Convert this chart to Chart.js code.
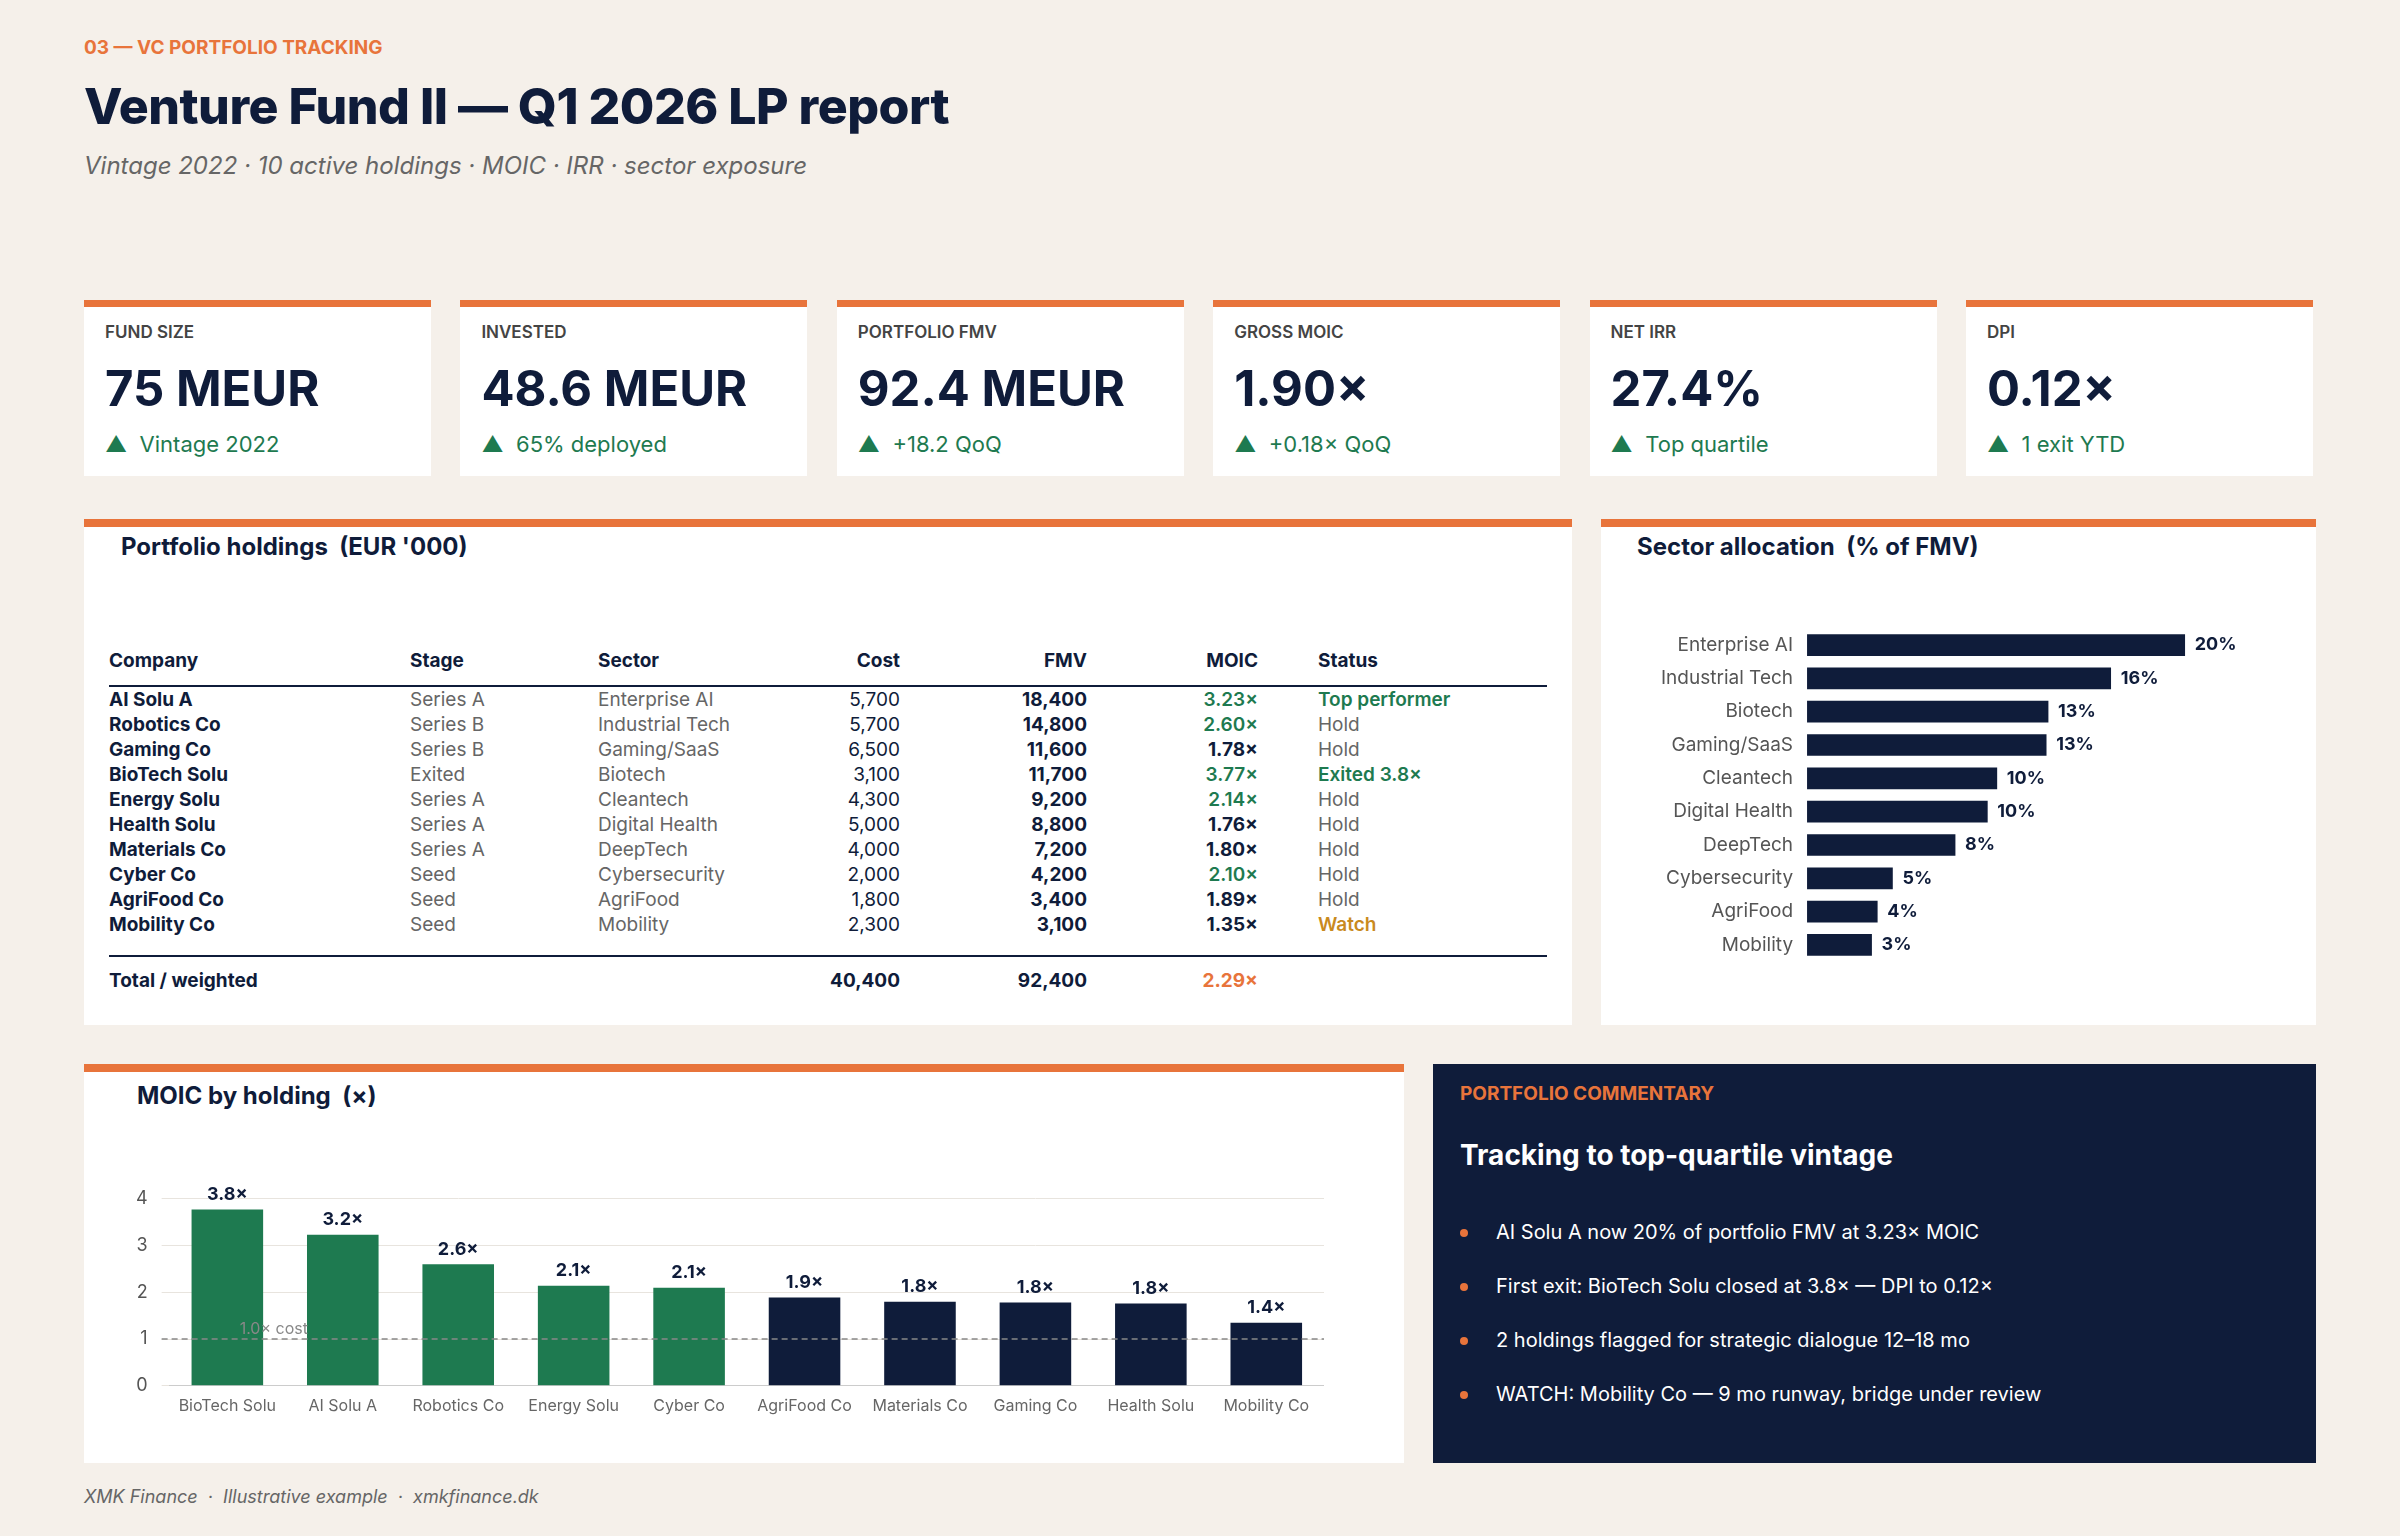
<!DOCTYPE html>
<html><head><meta charset="utf-8">
<script src="https://cdn.jsdelivr.net/npm/chart.js@4/dist/chart.umd.min.js"></script>
<style>
body{margin:0;width:2400px;height:1536px;background:#f5f0ea;font-family:Inter,sans-serif;color:#0f1c3a;position:relative;overflow:hidden}
.abs{position:absolute}
.eyebrow{left:84px;top:36px;font-size:19px;font-weight:700;color:#e8743b}
.title{left:84px;top:76px;font-size:50px;font-weight:800;letter-spacing:-0.5px}
.sub{left:84px;top:151px;font-size:24px;font-style:italic;color:#666}
.card{top:300px;height:176px;width:347px;background:#fff;border-top:7px solid #e8743b;box-sizing:border-box}
.card .l{position:absolute;left:21px;top:15px;font-size:17px;font-weight:600;color:#444}
.card .v{position:absolute;left:21px;top:52px;font-size:49px;font-weight:700}
.card .s{position:absolute;left:21px;top:124px;font-size:22px;color:#1e7a50}
.panel{background:#fff;border-top:8px solid #e8743b;box-sizing:border-box}
.ptitle{font-size:24px;font-weight:700}
table{border-collapse:collapse;font-size:19px;table-layout:fixed}
td,th{padding:0;height:25px;line-height:25px;white-space:nowrap}
th{text-align:left;font-weight:700;height:34px;border-bottom:2px solid #0f1c3a;vertical-align:top}
.r{text-align:right}.b{font-weight:700}.g{color:#666}.gr{color:#1e7a50;font-weight:600}.or{color:#c98a1e;font-weight:600}
.comm{left:1433px;top:1064px;width:883px;height:399px;background:#0f1c3a;color:#fff}
.comm ul{list-style:none;margin:0;padding:0;position:absolute;left:27px;top:156px}
.comm li{font-size:20px;height:54px;padding-left:36px;position:relative}
.comm li:before{content:"";position:absolute;left:0;top:9px;width:8px;height:8px;border-radius:50%;background:#e8743b}
.foot{left:84px;top:1486px;font-size:18px;font-style:italic;color:#666}
</style></head><body>
<div class="abs eyebrow">03 — VC PORTFOLIO TRACKING</div>
<div class="abs title">Venture Fund II — Q1 2026 LP report</div>
<div class="abs sub">Vintage 2022 · 10 active holdings · MOIC · IRR · sector exposure</div>
<div id="cards"></div>

<div class="abs panel" style="left:84px;top:519px;width:1488px;height:506px">
  <div class="abs ptitle" style="left:37px;top:5px">Portfolio holdings &nbsp;(EUR '000)</div>
  <table class="abs" style="left:25px;top:121px;width:1438px">
    <colgroup><col style="width:301px"><col style="width:188px"><col style="width:199px"><col style="width:103px"><col style="width:187px"><col style="width:171px"><col style="width:289px"></colgroup>
    <thead><tr><th style="height:37px">Company</th><th>Stage</th><th>Sector</th><th class="r">Cost</th><th class="r">FMV</th><th class="r">MOIC</th><th style="padding-left:60px">Status</th></tr></thead>
    <tbody id="rows"></tbody>
  </table>
</div>

<div class="abs panel" style="left:1601px;top:519px;width:715px;height:506px">
  <div class="abs ptitle" style="left:36px;top:5px">Sector allocation &nbsp;(% of FMV)</div>
  <div class="abs" style="left:54px;top:84px;width:636px;height:368px"><canvas id="sector"></canvas></div>
</div>

<div class="abs panel" style="left:84px;top:1064px;width:1320px;height:399px">
  <div class="abs ptitle" style="left:53px;top:9px">MOIC by holding &nbsp;(×)</div>
  <div class="abs" style="left:12px;top:102px;width:1228px;height:245px"><canvas id="moic"></canvas></div>
</div>

<div class="abs comm">
  <div class="abs" style="left:27px;top:18px;font-size:19px;font-weight:700;color:#e8743b">PORTFOLIO COMMENTARY</div>
  <div class="abs" style="left:27px;top:74px;font-size:28px;font-weight:700">Tracking to top-quartile vintage</div>
  <ul id="bullets"></ul>
</div>
<div class="abs foot">XMK Finance &nbsp;·&nbsp; Illustrative example &nbsp;·&nbsp; xmkfinance.dk</div>

<script>
const kpiLabels = ['FUND SIZE','INVESTED','PORTFOLIO FMV','GROSS MOIC','NET IRR','DPI'];
const kpiValues = ['75 MEUR','48.6 MEUR','92.4 MEUR','1.90×','27.4%','0.12×'];
const kpiNotes = ['Vintage 2022','65% deployed','+18.2 QoQ','+0.18× QoQ','Top quartile','1 exit YTD'];

const companies = ['AI Solu A','Robotics Co','Gaming Co','BioTech Solu','Energy Solu','Health Solu','Materials Co','Cyber Co','AgriFood Co','Mobility Co'];
const stages = ['Series A','Series B','Series B','Exited','Series A','Series A','Series A','Seed','Seed','Seed'];
const sectorsOf = ['Enterprise AI','Industrial Tech','Gaming/SaaS','Biotech','Cleantech','Digital Health','DeepTech','Cybersecurity','AgriFood','Mobility'];
const cost = [5700,5700,6500,3100,4300,5000,4000,2000,1800,2300];
const fmv = [18400,14800,11600,11700,9200,8800,7200,4200,3400,3100];
const moic = [3.23,2.60,1.78,3.77,2.14,1.76,1.80,2.10,1.89,1.35];
const statuses = ['Top performer','Hold','Hold','Exited 3.8×','Hold','Hold','Hold','Hold','Hold','Watch'];

const sectorLabels = ['Enterprise AI','Industrial Tech','Biotech','Gaming/SaaS','Cleantech','Digital Health','DeepTech','Cybersecurity','AgriFood','Mobility'];
const sectorShare = [19.9,16.0,12.7,12.6,10.0,9.5,7.8,4.5,3.7,3.4];

const moicNames = ['BioTech Solu','AI Solu A','Robotics Co','Energy Solu','Cyber Co','AgriFood Co','Materials Co','Gaming Co','Health Solu','Mobility Co'];
const moicValues = [3.77,3.23,2.60,2.14,2.10,1.89,1.80,1.78,1.76,1.35];

const bullets = ['AI Solu A now 20% of portfolio FMV at 3.23× MOIC','First exit: BioTech Solu closed at 3.8× — DPI to 0.12×','2 holdings flagged for strategic dialogue 12–18 mo','WATCH: Mobility Co — 9 mo runway, bridge under review'];

const NAVY='#0f1c3a', GREEN='#1e7a50', ORANGE='#e8743b';

let h='';
kpiLabels.forEach((l,i)=>{
  h+=`<div class="abs card" style="left:${84+i*376.4}px"><div class="l">${l}</div><div class="v">${kpiValues[i]}</div><div class="s">▲&nbsp; ${kpiNotes[i]}</div></div>`;
});
document.getElementById('cards').innerHTML=h;

const fmt=n=>n.toLocaleString('en-US');
let r='';
companies.forEach((c,i)=>{
  const mc = moic[i]>=2 ? 'gr' : 'b';
  const sc = statuses[i]==='Watch' ? 'or' : (i===0||i===3 ? 'gr' : 'g');
  r+=`<tr><td class="b">${c}</td><td class="g">${stages[i]}</td><td class="g">${sectorsOf[i]}</td><td class="r">${fmt(cost[i])}</td><td class="r b">${fmt(fmv[i])}</td><td class="r ${mc}">${moic[i].toFixed(2)}×</td><td class="${sc}" style="padding-left:60px">${statuses[i]}</td></tr>`;
});
const tc=cost.reduce((a,b)=>a+b,0), tf=fmv.reduce((a,b)=>a+b,0);
r+=`<tr><td colspan="7" style="height:18px"></td></tr><tr style="border-top:2px solid #0f1c3a"><td class="b" style="height:46px">Total / weighted</td><td></td><td></td><td class="r b">${fmt(tc)}</td><td class="r b">${fmt(tf)}</td><td class="r b" style="color:${ORANGE}">${(tf/tc).toFixed(2)}×</td><td></td></tr>`;
document.getElementById('rows').innerHTML=r;

document.getElementById('bullets').innerHTML=bullets.map(b=>`<li>${b}</li>`).join('');

const valueLabels = {
  id:'valueLabels',
  afterDatasetsDraw(chart, args, opts){
    const {ctx}=chart; const meta=chart.getDatasetMeta(0);
    ctx.save(); ctx.fillStyle=NAVY; ctx.font='700 18px Inter';
    meta.data.forEach((el,i)=>{
      const v=chart.data.datasets[0].data[i];
      if(opts.horizontal){ctx.textAlign='left';ctx.textBaseline='middle';ctx.fillText(Math.round(v)+'%',el.x+10,el.y);}
      else{ctx.textAlign='center';ctx.textBaseline='bottom';ctx.fillText(v.toFixed(1)+'×',el.x,el.y-6);}
    });
    ctx.restore();
  }
};

new Chart(document.getElementById('sector'),{
  type:'bar',
  data:{labels:sectorLabels,datasets:[{data:sectorShare,backgroundColor:NAVY,barThickness:21}]},
  options:{indexAxis:'y',responsive:true,maintainAspectRatio:false,animation:false,
    plugins:{legend:{display:false},tooltip:{enabled:false},valueLabels:{horizontal:true}},
    scales:{x:{display:false,min:0,max:25.5},
      y:{grid:{display:false},border:{display:false},ticks:{color:'#555',font:{size:19,family:'Inter'},padding:6}}}},
  plugins:[valueLabels]
});

const costLine = {
  id:'costLine',
  afterDatasetsDraw(chart){
    const {ctx,chartArea:a,scales:{y}}=chart; const yy=y.getPixelForValue(1);
    ctx.save(); ctx.strokeStyle='#888'; ctx.lineWidth=1.5; ctx.setLineDash([6,4]);
    ctx.beginPath(); ctx.moveTo(a.left-8,yy); ctx.lineTo(a.right+30,yy); ctx.stroke();
    ctx.fillStyle='#888'; ctx.font='16px Inter'; ctx.textBaseline='bottom';
    ctx.fillText('1.0× cost',a.left+70,yy-2); ctx.restore();
  }
};

new Chart(document.getElementById('moic'),{
  type:'bar',
  data:{labels:moicNames,datasets:[{data:moicValues,backgroundColor:moicValues.map(v=>v>=2?GREEN:NAVY),barPercentage:0.62,categoryPercentage:1}]},
  options:{responsive:true,maintainAspectRatio:false,animation:false,
    layout:{padding:{top:10,left:26}},
    plugins:{legend:{display:false},tooltip:{enabled:false},valueLabels:{}},
    scales:{x:{grid:{display:false},border:{color:'#ccc'},ticks:{color:'#666',font:{size:16,family:'Inter'}}},
      y:{min:0,max:4,ticks:{stepSize:1,color:'#555',font:{size:18,family:'Inter'},padding:14},grid:{color:'#e8e4de'},border:{display:false}}}},
  plugins:[valueLabels,costLine]
});
</script>
</body></html>
